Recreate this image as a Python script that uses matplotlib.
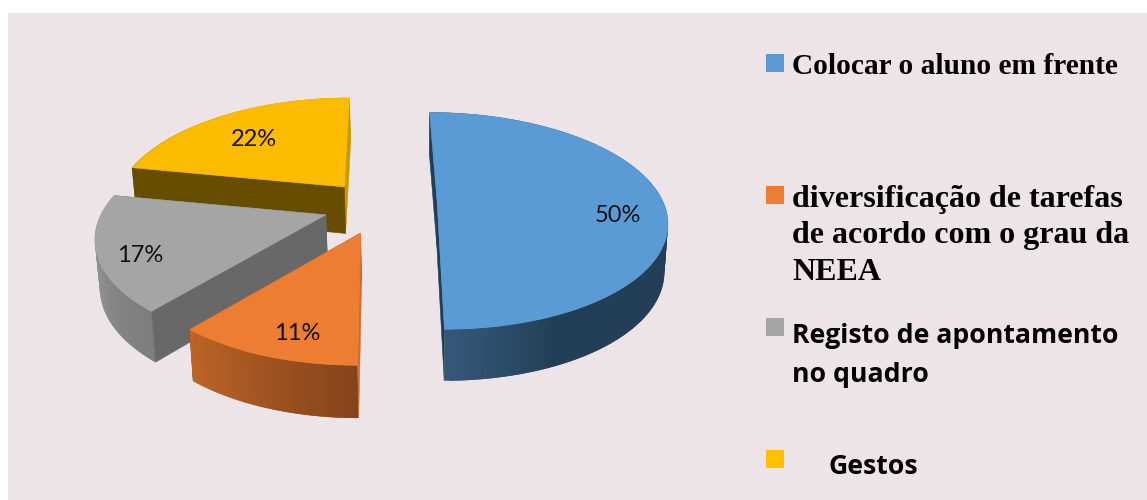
import numpy as np
import matplotlib
matplotlib.use("Agg")
import matplotlib.pyplot as plt
from matplotlib.collections import PolyCollection
from matplotlib.colors import to_rgb
from matplotlib.patches import Rectangle

labels = ["Colocar o aluno em frente",
          "diversificação de tarefas\nde acordo com o grau da\nNEEA",
          "Registo de apontamento\nno quadro",
          "Gestos"]
values = [50, 11, 17, 22]

top_colors = ["#5B9BD5", "#EC7D32", "#A5A5A5", "#FBBC00"]
start_face = ["#1F3F58", "#C96F2C", "#686868", "#674D00"]
end_face = ["#1F3F58", "#8A4A1C", "#686868", "#C99700"]
# rim shading as (angle, colour) stops
rim_stops = [[(60, "#233F57"), (155, "#233F57"), (180, "#37597A")],
             [(180, "#84431A"), (220, "#BF6528")],
             [(219, "#7D7D7D"), (285, "#9A9A9A")],
             [(280, "#674D00"), (300, "#674D00"), (320, "#C99700"), (360, "#C99700")]]
nudge = [(-0.5, -8), (0, 0), (0, -2), (1, 0)]
squash = [0.98, 1, 1, 1]

# pie geometry, in pixels
ox, oy = 380, 207.7
explode_x, explode_y = 57.5, 27
rx, ry = 225, 106.4
persp = 0.195
shear, vanish_x = 0.135, 382
drop_x, drop_cx = 0.015, 430


def rim(ax_, ay_, theta, sq):
    t = np.radians(theta)
    w = 1 + persp * np.cos(t)
    x = ax_ + rx * np.sin(t) / w - shear * (ax_ - vanish_x) * np.cos(t)
    y = ay_ - sq * ry * np.cos(t) / w
    return x, y


def lower(x, y):
    # the underside sits lower and slightly pulled in
    return x + drop_x * (drop_cx - x), y + 40 + 0.035 * y


def shade(stops, theta):
    angles = [s[0] for s in stops]
    rgb = np.array([to_rgb(s[1]) for s in stops])
    return np.column_stack([np.interp(theta, angles, rgb[:, i]) for i in range(3)])


fig = plt.figure(figsize=(11.47, 5), dpi=100, facecolor="white")
ax = fig.add_axes([0, 0, 1, 1])
ax.set_xlim(0, 1147)
ax.set_ylim(500, 0)
ax.axis("off")
ax.add_patch(Rectangle((8, 13), 1139, 487, color="#EDE4E7", lw=0))

edges = np.cumsum([0] + values) / sum(values) * 360
# blue first, then from the back around to the front slice
for i in [0, 3, 2, 1]:
    t0, t1 = edges[i], edges[i + 1]
    mid = np.radians((t0 + t1) / 2)
    cx = ox + explode_x * np.sin(mid) + nudge[i][0]
    cy = oy - explode_y * np.cos(mid) + nudge[i][1]

    theta = np.linspace(t0, t1, 160)
    xs, ys = rim(cx, cy, theta, squash[i])
    xb, yb = lower(xs, ys)
    cbx, cby = lower(cx, cy)

    # far cut face goes under the rim, near cut face over it
    ax.fill([cx, xs[-1], xb[-1], cbx], [cy, ys[-1], yb[-1], cby], color=end_face[i], lw=0.4)

    # each strip overlaps the next one so no seams show
    quads = [[(xs[j], ys[j]), (xs[j + 2], ys[j + 2]), (xb[j + 2], yb[j + 2]), (xb[j], yb[j])]
             for j in range(len(theta) - 2)]
    cols = shade(rim_stops[i], theta[:-2])
    ax.add_collection(PolyCollection(quads, facecolors=cols, edgecolors="none"))

    ax.fill([cx, xs[0], xb[0], cbx], [cy, ys[0], yb[0], cby], color=start_face[i], lw=0.4)
    ax.fill(np.r_[cx, xs], np.r_[cy, ys], color=top_colors[i], lw=0.4)

label_pos = [(618, 216), (297, 334), (140, 255), (254, 139)]
for v, p in zip(values, label_pos):
    ax.text(p[0], p[1], "%d%%" % v, family="Lato", fontsize=17, color="#111111",
            ha="center", va="center")

# legend on the right side
box_y = [54, 186, 318, 450]
text_y = [73.5, 206.5, 343, 474]
text_x = [792, 792, 792, 829]
line_step = [0, 36.5, 39, 0]
fonts = [("Liberation Serif", 21.2), ("Liberation Serif", 23), ("Open Sans", 19.2), ("Open Sans", 19.2)]
for i, name in enumerate(labels):
    ax.add_patch(Rectangle((766, box_y[i]), 18, 18, color=top_colors[i] if i != 3 else "#FFC000", lw=0))
    for n, line in enumerate(name.split("\n")):
        ax.text(text_x[i], text_y[i] + n * line_step[i], line, family=fonts[i][0],
                fontsize=fonts[i][1], fontweight="bold", color="black", ha="left", va="baseline")

fig.savefig("out.png", dpi=100)
